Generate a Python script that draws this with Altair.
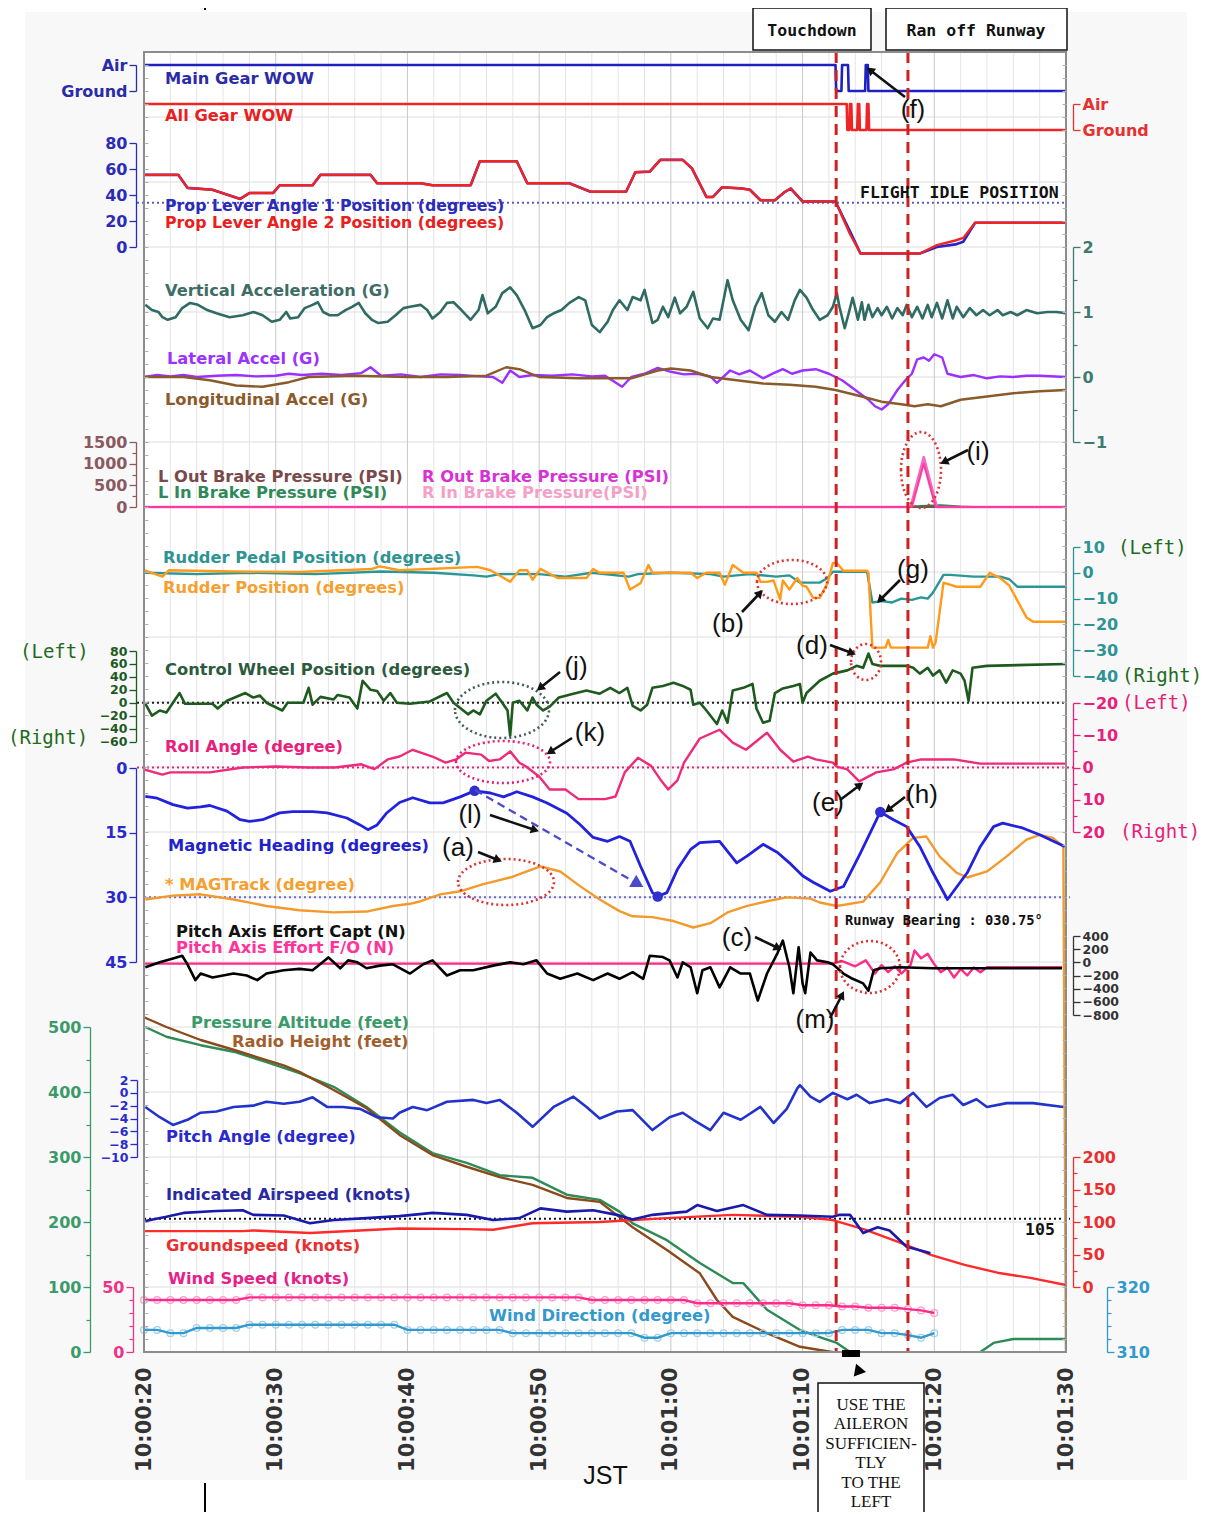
import math
import altair as alt
import pandas as pd

# ----------------------------------------------------------------- data
# time t = seconds after 10:00:00 JST
MAIN_GEAR_WOW = [(20, 1), (72.5, 1), (72.55, 0), (72.95, 0), (73.0, 1), (73.45, 1), (73.5, 0),
                 (74.75, 0), (74.8, 1), (74.95, 1), (75.0, 0), (90, 0)]
ALL_GEAR_WOW = [(20, 1), (73.35, 1), (73.4, 0), (73.55, 0), (73.6, 1), (73.7, 1), (73.75, 0),
                (74.15, 0), (74.2, 1), (74.3, 1), (74.35, 0), (74.85, 0), (74.9, 1), (75.0, 1),
                (75.05, 0), (90, 0)]
PLA_2 = [(20, 55.5), (22.6, 55.5), (23.3, 45.5), (25.2, 44), (27.3, 37), (28.0, 41.5), (29.8, 41.5),
         (30.3, 47.5), (32.8, 47.5), (33.4, 55.5), (37.2, 55.5), (37.7, 49), (41.0, 49), (41.9, 47.5),
         (44.8, 47.5), (45.5, 66), (48.3, 66), (49.1, 49), (52.3, 49), (53.9, 42.5), (56.6, 42.5),
         (57.3, 57.5), (58.4, 58), (59.2, 67), (60.9, 67), (61.6, 60.5), (62.7, 38.5), (63.2, 38.5),
         (63.9, 46), (65.4, 45), (66.0, 44), (66.8, 36), (67.9, 36), (68.6, 42), (69.1, 45),
         (70.0, 35), (72.5, 35), (73.6, 10), (74.4, -5), (78.9, -5), (80.2, 1.5), (81.6, 5),
         (82.2, 7), (83.1, 18.7), (90, 18.7)]
PLA_1 = [(20, 55.5), (22.6, 55.5), (23.3, 45.5), (25.2, 44), (27.3, 37), (28.0, 41.5), (29.8, 41.5),
         (30.3, 47.5), (32.8, 47.5), (33.4, 55.5), (37.2, 55.5), (37.7, 49), (41.0, 49), (41.9, 47.5),
         (44.8, 47.5), (45.5, 66), (48.3, 66), (49.1, 49), (52.3, 49), (53.9, 42.5), (56.6, 42.5),
         (57.3, 57.5), (58.4, 58), (59.2, 67), (60.9, 67), (61.6, 60.5), (62.7, 38.5), (63.2, 38.5),
         (63.9, 46), (65.4, 45), (66.0, 44), (66.8, 36), (67.9, 36), (68.6, 42), (69.1, 45),
         (70.0, 35), (72.5, 35), (73.6, 12), (74.4, -5), (78.9, -5), (80.2, 0), (81.6, 2),
         (82.2, 4), (83.1, 18.7), (90, 18.7)]
FLIGHT_IDLE = 34

VERT_ACC = [(20.1, 1.11), (20.6, 1.03), (21.1, 1.0), (21.4, 0.92), (21.8, 0.88), (22.4, 0.92), (22.9, 1.06),
            (23.5, 1.14), (24.1, 1.11), (24.8, 1.03), (25.5, 0.98), (26.5, 0.92), (27.5, 0.95), (28.3, 1.0),
            (29.0, 0.95), (29.7, 0.85), (30.3, 0.88), (30.8, 1.0), (31.1, 0.9), (31.7, 0.92), (32.2, 1.06),
            (32.8, 1.11), (33.2, 1.15), (33.6, 1.0), (34.1, 0.95), (34.7, 0.95), (35.3, 1.03), (35.8, 1.08),
            (36.3, 1.14), (36.8, 0.98), (37.3, 0.88), (37.8, 0.83), (38.5, 0.85), (39.1, 0.95), (39.7, 1.06),
            (40.2, 1.08), (41.0, 1.11), (41.5, 1.03), (41.9, 0.9), (42.5, 1.0), (43.0, 1.14), (43.5, 1.15),
            (44.1, 1.03), (44.8, 0.88), (45.4, 1.03), (45.7, 1.26), (46.1, 0.98), (46.7, 1.08), (47.2, 1.29),
            (47.8, 1.38), (48.3, 1.26), (48.9, 1.03), (49.5, 0.75), (50.1, 0.8), (50.6, 0.92), (51.1, 0.98),
            (51.7, 1.03), (52.3, 1.14), (53.0, 1.23), (53.5, 1.18), (54.0, 0.8), (54.6, 0.69), (55.2, 0.85),
            (55.6, 1.03), (56.1, 1.18), (56.7, 1.03), (57.1, 1.23), (57.7, 1.18), (58.0, 1.34), (58.6, 0.83),
            (59.0, 0.88), (59.4, 1.08), (59.8, 0.92), (60.3, 1.22), (60.7, 0.98), (61.2, 1.08), (61.7, 1.31),
            (62.2, 0.9), (62.8, 0.75), (63.2, 0.9), (63.7, 0.88), (64.3, 1.49), (64.7, 1.18), (65.3, 0.88),
            (65.9, 0.72), (66.4, 1.08), (66.9, 1.29), (67.4, 0.95), (67.9, 0.85), (68.4, 1.0), (68.9, 0.88),
            (69.4, 1.18), (69.8, 1.34), (70.3, 1.22), (70.8, 1.03), (71.3, 0.88), (71.9, 0.95), (72.3, 1.08),
            (72.6, 1.29), (72.8, 1.08), (73.2, 0.75), (73.5, 0.98), (73.8, 1.22), (74.0, 1.06), (74.2, 0.88),
            (74.5, 1.15), (74.7, 0.88), (75.0, 1.11), (75.3, 0.92), (75.7, 1.06), (76.0, 0.95), (76.4, 1.08),
            (76.8, 0.9), (77.2, 1.06), (77.6, 0.95), (77.9, 1.11), (78.3, 0.92), (78.7, 1.08), (79.1, 0.9),
            (79.5, 1.11), (79.8, 0.92), (80.2, 1.14), (80.6, 0.9), (81.0, 1.18), (81.4, 0.9), (81.7, 1.08),
            (82.2, 0.92), (82.7, 1.06), (83.2, 0.95), (83.7, 1.03), (84.2, 0.95), (84.8, 1.03), (85.2, 0.95),
            (85.8, 1.0), (86.3, 0.95), (87.0, 1.03), (87.8, 0.98), (88.6, 1.0), (89.3, 1.0), (90.0, 0.98)]
LAT_ACC = [(20, 0.0), (21, 0.03), (22, 0.01), (23, 0.03), (24, 0.0), (25.5, 0.02), (27, 0.03), (28.5, 0.01),
           (30, 0.02), (31, 0.05), (32, 0.03), (33.5, 0.05), (35, 0.03), (36.5, 0.06), (37.2, 0.15),
           (38, 0.02), (39.5, 0.04), (41, 0.0), (42.5, 0.04), (44, 0.03), (45.5, 0.01), (46.5, 0.0),
           (47.2, -0.09), (47.8, 0.1), (48.5, 0.0), (49.5, 0.03), (51, 0.02), (52.5, 0.04), (54, 0.01),
           (55, 0.02), (56.3, -0.15), (57, 0.0), (58, 0.05), (59, 0.14), (60, 0.08), (61, 0.04),
           (62, 0.05), (63, 0.01), (63.5, -0.09), (64.5, 0.1), (65.2, 0.04), (66, 0.1), (67, -0.02),
           (67.8, 0.06), (68.5, 0.12), (69.2, 0.05), (70, 0.1), (71, 0.12), (72, 0.05), (73, -0.05),
           (74, -0.2), (75, -0.35), (75.5, -0.45), (76, -0.5), (76.5, -0.42), (77.2, -0.2), (77.8, -0.05),
           (78.3, 0.05), (78.7, 0.27), (79.2, 0.3), (79.6, 0.25), (80, 0.35), (80.6, 0.3), (81, 0.05),
           (82, 0.0), (83, 0.03), (84, -0.02), (85, 0.01), (86, 0.0), (87, 0.02), (88, 0.02), (90, 0.0)]
LON_ACC = [(20, 0.0), (23, 0.0), (25, -0.05), (27, -0.13), (29, -0.15), (31, -0.08), (32.5, 0.0), (36, 0.02),
           (40, 0.0), (43, 0.0), (46, 0.02), (47.5, 0.15), (48.5, 0.12), (50, 0.0), (53, -0.02), (57, -0.02),
           (59, 0.1), (60, 0.13), (61.5, 0.1), (63, 0.0), (65, -0.05), (67, -0.1), (69, -0.12), (71, -0.15),
           (72.5, -0.2), (73.5, -0.25), (74.5, -0.3), (76, -0.38), (77.5, -0.42), (78.5, -0.45),
           (79.5, -0.42), (80.5, -0.45), (82, -0.35), (84, -0.3), (86, -0.25), (88, -0.22), (90, -0.2)]

BRAKE_L_OUT = [(20, 0), (90, 0)]
BRAKE_L_IN = [(20, 0), (78, 0), (79, 20), (80.5, 40), (82, 10), (83, 0), (90, 0)]
BRAKE_R_OUT = [(20, 0), (78.2, 0), (79.2, 1150), (80.2, 0), (90, 0)]
BRAKE_R_IN = [(20, 0), (78.3, 0), (79.2, 1000), (80.1, 0), (90, 0)]

RUDDER_PEDAL = [(20, 0), (24, -0.5), (28, 0), (33, -0.5), (38, 0.5), (42, 0), (45, -1), (46, -1.5), (47, -0.5),
                (50, -0.5), (52, -1.5), (54, 0), (56.8, -1.5), (57.5, -0.5), (60, 0), (63, -0.5), (64, -1.5),
                (66, -0.5), (68, -1.5), (69, -1), (69.8, -3.8), (71.3, -3.8), (71.9, -2), (72.3, 0.4),
                (74.9, 0.4), (75.3, -11.5), (76, -11), (76.8, -11.5), (77.5, -10), (78.3, -10.5),
                (79.0, -9.5), (79.5, -10), (79.9, -7.7), (80.7, -0.8), (81.2, -0.8), (83, -1.5), (85, -1.5),
                (85.7, -2.5), (86.3, -5.4), (90, -5.4)]
RUDDER_POS = [(20, 1), (21.4, -1.5), (21.9, 1), (26.8, 0.5), (31.8, 0.3), (37.3, 1.5), (37.9, 2.5), (39.4, 1),
              (45.3, 2.3), (46.3, 1), (47.8, -3.5), (48.5, 1), (49.1, 1), (49.5, -2.7), (50.1, 1.5),
              (51.4, -2), (53.6, -2), (54.1, 1.5), (54.6, 0), (56.4, 0), (56.9, -6.5), (57.7, -4), (58.3, 3),
              (58.6, 0), (61.5, 0), (62.0, -2), (62.7, 0), (63.7, 0), (64.1, -4.6), (64.7, 3), (65.5, 0),
              (66.5, 0), (66.8, -3.5), (67.3, -3.5), (67.8, -3), (68.3, -10.4), (68.5, -3), (69.0, -6.5),
              (69.6, -2), (70.0, -5), (70.3, -5.4), (70.8, -9.7), (71.3, -9.7), (71.9, -4), (72.3, 3.8),
              (72.6, 3.8), (73.1, 0.8), (74.9, 0.8), (75.0, 0), (75.3, -29), (76.3, -29), (76.5, -26),
              (76.7, -29), (79.5, -29), (79.7, -24.6), (79.9, -29), (80.1, -27), (80.7, -3.8), (81.7, -5.4),
              (83.5, -5.4), (84.2, 0), (85.0, -2), (85.7, -5), (87.0, -17.3), (87.5, -19), (90, -19)]

CONTROL_WHEEL = [(20.1, -1.5), (20.6, -20), (21.2, -12), (21.7, -15), (22.2, 0), (22.7, 15), (23.1, -1.5),
                 (25.2, -1.5), (25.6, -9), (26.3, 3), (27.7, 15), (28.3, 8), (28.8, 11), (29.3, 0),
                 (30.5, -12), (30.9, 0), (32.1, 0), (32.5, 23), (32.8, -3), (33.4, 9), (34.4, 5), (34.7, 12),
                 (35.6, 8), (36.2, -9), (36.6, 34), (37.2, 20), (37.7, 18), (38.2, 3), (38.7, 15), (39.2, 0),
                 (40.2, -1.5), (41.7, 2), (43.0, 15), (43.5, 0), (44.6, -18), (45.0, -12), (45.5, -18),
                 (46.0, 3), (46.7, 14), (47.2, 0), (47.6, -12), (47.8, -51), (48.0, 0), (48.5, 3),
                 (49.1, -12), (49.5, 8), (49.8, -3), (50.3, -12), (50.8, -6), (51.5, 8), (52.6, 14),
                 (53.6, 19), (54.6, 14), (55.4, 23), (56.1, 15), (56.7, 23), (57.1, -5), (57.7, -12),
                 (58.2, -3), (58.6, 23), (59.4, 26), (60.2, 31), (60.9, 26), (61.5, 20), (61.7, -3),
                 (62.2, 0), (62.7, -12), (63.5, -33), (63.9, -12), (64.3, -31), (64.7, 19), (65.5, 23),
                 (66.2, 29), (66.5, -9), (67.0, -31), (67.5, -28), (67.9, 15), (68.5, 22), (69.3, 26),
                 (69.8, 29), (70.0, 0), (70.3, 15), (71.3, 34), (72.3, 45), (73.4, 50), (74.1, 57), (74.6, 54),
                 (75.0, 76), (75.3, 60), (75.9, 57), (77.9, 57), (78.4, 54), (78.9, 45), (79.5, 54),
                 (79.9, 42), (80.4, 50), (80.9, 31), (81.4, 50), (82.0, 45), (82.3, 34), (82.6, 3),
                 (82.9, 54), (84.0, 57), (90, 60)]
ROLL = [(20, 0.6), (21.4, 2.2), (22, 1.5), (25, 1.5), (27.5, 0), (30, -0.3), (32.5, 0), (34.5, 0),
        (36.5, -1), (37.5, 0.5), (38.5, -2.5), (39.4, -3.4), (40.4, -5.5), (41.9, -3.4), (42.9, -1.5),
        (43.7, -2.5), (44.4, -4.6), (45.6, -4), (46.2, -2), (47.0, -2.5), (47.8, -5), (48.5, -1.5),
        (49.0, -0.3), (50.0, 2.8), (50.8, 6.8), (52.0, 6.8), (53.0, 9.8), (55.0, 9.8), (55.8, 9),
        (56.5, 1.5), (57.5, -3), (58.5, -0.5), (59.2, 3.7), (59.8, 6.8), (60.5, 4), (61.0, -1.5),
        (62.2, -9), (63.7, -11.7), (64.7, -7.7), (65.7, -5.5), (67.3, -10.8), (68.3, -5.5), (69.3, -1.8),
        (70.4, -3.4), (71.0, -2.5), (72.3, -1.5), (72.6, -0.3), (73.4, 0.6), (74.3, 4.3), (75.6, 1.5),
        (76.9, 0.6), (77.9, -1.5), (79, -2.5), (81.5, -2.5), (83.5, -1.2), (90, -1.2)]

MAG_HEADING = [(20.1, 6.6), (21.0, 7.0), (22.2, 8.5), (23.3, 9.3), (24.3, 9.0), (25.0, 8.7), (26.3, 10.0),
               (27.3, 12), (28.0, 12.4), (29.0, 12.0), (30.3, 10.4), (31.3, 10.1), (32.8, 10.1), (33.9, 10.4),
               (35.4, 11.6), (36.4, 13.2), (37.0, 14.3), (37.7, 13.2), (38.4, 10.5), (39.4, 8.0),
               (40.4, 6.9), (41.7, 8.1), (42.7, 8.1), (44.0, 6.7), (45.1, 5.3), (46.3, 5.8), (47.3, 6.7),
               (48.3, 5.5), (49.5, 6.7), (50.6, 8.1), (52.1, 10.5), (53.1, 13.1), (54.1, 16.1), (55.2, 17.0),
               (56.1, 15.9), (56.9, 17.0), (57.7, 22.8), (58.6, 28.9), (59.0, 29.8), (59.7, 28.9),
               (60.5, 23.5), (61.5, 18.9), (62.2, 17.3), (63.7, 17.0), (65.0, 22), (65.8, 20.4), (67.0, 17.7),
               (68.1, 19.6), (69.0, 22), (70.0, 25), (70.8, 26.5), (72.1, 28.6), (73.1, 27.5), (74.4, 19.7),
               (75.9, 10.2), (76.9, 12), (77.9, 13.6), (78.9, 18.2), (79.9, 24.3), (81.0, 30.5),
               (82.5, 24.3), (83.5, 18.2), (84.5, 13.6), (85.2, 12.8), (86.7, 13.9), (88.0, 15.5),
               (89.9, 18.2)]
MAG_TRACK = [(20.1, 30.5), (22.2, 29.6), (24.3, 29.3), (26.8, 30.5), (29.3, 32), (31.8, 33), (34.4, 33.5),
             (36.9, 33.3), (38.9, 32), (40.2, 31.5), (41.0, 30.9), (42.5, 29.3), (44.0, 28.6), (45.7, 27),
             (47.8, 25.4), (50.1, 22.8), (51.6, 24), (53.1, 27.4), (54.6, 30.5), (56.1, 33.2), (57.1, 34.4),
             (58.6, 34.6), (60.2, 35.5), (61.7, 37), (63.0, 36), (64.3, 33.5), (65.8, 32), (67.3, 30.9),
             (68.8, 30), (70.6, 30.3), (71.3, 31.2), (72.6, 32), (74.6, 31), (75.9, 26.5), (77.2, 19.7),
             (78.4, 16.2), (79.4, 15.9), (80.4, 20.5), (81.7, 24.3), (82.5, 25.4), (84.0, 24), (85.5, 20.5),
             (87.0, 16.6), (88.0, 15.5), (89.0, 16.2), (89.8, 18.2), (90.0, 140)]
RUNWAY_BEARING = 30
HEADING_MARKS = [(45.1, 5.3), (59.0, 29.8), (75.9, 10.2)]

EFFORT_CAPT = [(20.1, -75), (21.2, 0), (22.2, 60), (22.9, 100), (23.3, -30), (23.9, -270), (24.3, -170),
               (25.2, -230), (26.8, -170), (27.8, -200), (28.6, -270), (29.3, -170), (30.6, -120),
               (31.8, -100), (32.8, -120), (34.0, 75), (34.9, -90), (35.5, 30), (36.2, 0), (36.9, -90),
               (37.9, -50), (38.9, -30), (40.2, -170), (41.2, -30), (41.9, 30), (43.0, -200), (44.0, -120),
               (45.0, -120), (46.5, -50), (47.8, 0), (48.8, -30), (49.8, 30), (50.6, -170), (51.6, -250),
               (52.9, -170), (54.1, -270), (55.2, -170), (56.1, -250), (57.1, -150), (57.9, -250),
               (58.4, 100), (59.4, 80), (59.9, 30), (60.5, -230), (60.9, 0), (61.5, -75), (62.0, -470),
               (62.4, -120), (63.0, -75), (63.7, -380), (64.5, -75), (65.3, -170), (66.0, -170),
               (66.6, -580), (67.3, -170), (68.1, 140), (68.5, 330), (69.0, -75), (69.3, -470), (69.7, 230),
               (70.0, -320), (70.2, -470), (70.6, 150), (71.1, 30), (71.9, 0), (72.3, -30), (73.1, -170),
               (73.8, -250), (74.6, -320), (75.0, -430), (75.4, -120), (75.9, -90), (77.4, -75),
               (79.9, -90), (89.7, -90)]
EFFORT_FO = [(20, -20), (72.3, -20), (73, 20), (74, -60), (74.8, 30), (75.5, -170), (76, -40), (76.5, -150),
             (77, -60), (77.5, -170), (78.2, -40), (78.5, 180), (79, 60), (79.5, 130), (80, -30),
             (80.5, -150), (81, -80), (81.5, -230), (82, -100), (82.5, -200), (83, -80), (83.5, -150),
             (84, -75), (89.7, -75)]

PRESSURE_ALT = [(20.1, 500), (21.7, 485), (24.3, 472), (26.8, 462), (29.3, 446), (31.8, 429), (34.4, 408),
                (36.9, 377), (39.4, 338), (41.9, 306), (44.5, 291), (47.0, 272), (49.5, 268), (52.1, 242),
                (54.6, 234), (56.1, 216), (57.1, 198), (59.7, 172), (62.2, 137), (64.7, 106), (65.5, 106),
                (67.3, 65), (69.8, 34), (71.3, 23), (72.6, 14), (73.6, 0), (74.5, -30), (82.5, -30),
                (83.5, 0), (84.5, 14), (86, 20), (90, 20)]
RADIO_HEIGHT = [(20.0, 515), (21.7, 500), (24.3, 480), (26.8, 465), (29.3, 449), (30.6, 441), (31.8, 431),
                (34.4, 403), (36.9, 375), (39.4, 334), (41.9, 303), (44.5, 285), (47.0, 269), (49.5, 257),
                (52.1, 237), (54.6, 231), (57.1, 192), (59.7, 157), (62.2, 121), (63.5, 80), (64.7, 54),
                (67.3, 29), (69.8, 8), (71.3, 3), (72.0, 1), (72.6, -1), (73.5, -30), (90, -30)]
PITCH = [(20.1, -2.2), (21.2, -3.8), (22.2, -5), (23.3, -4.2), (24.3, -3.1), (25.5, -2.9), (26.8, -2.2),
         (28.3, -2.0), (29.3, -1.4), (30.6, -1.7), (31.8, -1.4), (32.8, -0.7), (33.9, -2.2), (35.1, -2.2),
         (36.4, -2.5), (37.7, -3.8), (38.9, -4.0), (39.4, -3.1), (40.4, -2.2), (41.5, -2.7), (43.0, -1.4),
         (45.0, -1.1), (46.0, -1.6), (47.0, -1.1), (48.3, -3.1), (49.5, -5.3), (51.1, -2.2), (52.6, -0.6),
         (53.6, -2.2), (54.6, -4), (55.9, -2.9), (57.1, -2.7), (58.6, -5.8), (59.9, -3.8), (60.9, -3.1),
         (61.7, -4.2), (63.0, -5.8), (64.0, -3.1), (65.3, -4.2), (66.8, -2.2), (67.8, -4.7), (68.8, -2.5),
         (69.6, 0.7), (69.8, 1.2), (70.6, -0.6), (71.3, -1.4), (72.3, 0), (73.4, -1.0), (74.1, -0.3),
         (75.1, -1.6), (76.4, -1.0), (77.4, -1.6), (78.4, 0), (79.4, -2.2), (80.4, -0.8), (81.4, -0.3),
         (82.2, -1.9), (83.2, -1.0), (84.0, -2.2), (85.5, -1.6), (87.5, -1.6), (89.8, -2.2)]

IAS = [(20.1, 101.5), (21.7, 108), (23.0, 114), (25.5, 117), (27.5, 118), (28.3, 111), (30.6, 110),
       (32.6, 98), (34.4, 103), (36.9, 106), (39.4, 109), (41.9, 114), (44.5, 111), (46.5, 103),
       (48.5, 106), (50.1, 121), (52.1, 116), (54.1, 118), (55.9, 111), (57.1, 104), (58.6, 111),
       (61.2, 116), (62.0, 126), (63.5, 117), (65.5, 126), (67.3, 111), (69.8, 110), (72.3, 108),
       (72.8, 111), (73.6, 111), (74.6, 83), (75.7, 92), (76.6, 87), (77.9, 62), (79.4, 54), (79.7, 52)]
IAS_REF = 105
GROUNDSPEED = [(20, 86), (27.5, 86), (28.3, 87), (32.6, 83), (39.4, 90), (44.5, 89), (46.5, 88), (49.5, 98),
               (54.6, 100), (59.7, 106), (64.7, 111), (69.8, 108), (72.3, 103), (74.8, 88), (77.3, 69),
               (79.8, 49), (82.3, 34), (84.8, 22), (87.3, 14), (90, 3)]
WIND_T = list(range(20, 81))
WIND_SPEED = ([40] * 8 + [42] * 26 + [40] * 8 + [37.5] * 8 + [36] * 3 + [35] * 2 + [34] * 3 + [33, 32, 30])
WIND_DIR = ([313.4] * 2 + [312.9] * 2 + [313.7] * 4 + [314.2] * 12 + [313.4] * 8 + [312.9] * 10 + [312.2] * 2
            + [312.9] * 13 + [313.4] * 3 + [312.9] * 2 + [312.6, 312.2, 312.9])

EVENT_T = [72.55, 78.0]          # touchdown, ran off runway

# ----------------------------------------------------------------- layout
W, H = 922, 1300
XS = alt.Scale(domain=[20, 90], range=[0, W], zero=False, nice=False)
PX = alt.Scale(domain=[0, W], range=[0, W], zero=False, nice=False)
PY = alt.Scale(domain=[0, H], range=[0, H], zero=False, nice=False)

BANDS = {
    'mgwow': ([0, 1], [39, 13]),
    'agwow': ([0, 1], [78, 52]),
    'pla': ([0, 80], [195, 91]),
    'acc': ([-1, 2], [390, 195]),
    'brake': ([0, 1500], [455, 390]),
    'rudder': ([-40, 10], [624, 495]),
    'wheel': ([-60, 80], [689.5, 599]),
    'roll': ([-20, 20], [651, 780]),
    'hdg': ([0, 45], [716, 910]),
    'effort': ([-800, 400], [963, 884]),
    'alt': ([0, 500], [1300, 975]),
    'pitch': ([-10, 2], [1105, 1028]),
    'spd': ([0, 200], [1235, 1105]),
    'wspd': ([0, 50], [1300, 1235]),
    'wdir': ([310, 320], [1300, 1235]),
}


def ys(name):
    dom, rng = BANDS[name]
    return alt.Scale(domain=dom, range=rng, zero=False, nice=False)


def yaxis(orient, values, color, offset=8, size=16, expr=''):
    kw = dict(orient=orient, values=values, offset=offset, title='', grid=False, zindex=2,
              labelColor=color, domainColor=color, tickColor=color, tickSize=7, format='d',
              labelFont='DejaVu Sans', labelFontWeight='bold', labelFontSize=size,
              labelPadding=2, labelOverlap=False, labelFlush=False, domainWidth=1.3, tickWidth=1.3)
    if expr:
        kw['labelExpr'] = expr
    return alt.Axis(**kw)


def minor(band, orient, values, color, offset=8):
    return alt.Chart(pd.DataFrame({'v': [values[0]]})).mark_point(opacity=0).encode(
        x=alt.value(0),
        y=alt.Y('v:Q', scale=ys(band), axis=alt.Axis(
            orient=orient, values=values, labels=False, domain=False, tickSize=4, tickColor=color,
            tickWidth=1.2, offset=offset, title='', grid=False, zindex=2)))


def line(points, band, color, width=2.4, ax=None, dash=None):
    df = pd.DataFrame(points, columns=['t', 'v'])
    props = dict(color=color, strokeWidth=width, clip=True, strokeJoin='round')
    if dash:
        props['strokeDash'] = dash
    return alt.Chart(df).mark_line(**props).encode(
        x=alt.X('t:Q', scale=XS, axis=None), y=alt.Y('v:Q', scale=ys(band), axis=ax))


def ref(band, value, color, x0, x1, width=2):
    return alt.Chart(pd.DataFrame({'v': [value]})).mark_rule(
        color=color, strokeDash=[2, 3], strokeWidth=width).encode(
        x=alt.value(x0), x2=alt.value(x1), y=alt.Y('v:Q', scale=ys(band), axis=None))


def rect(x0, x1, y0, y1, fill, stroke='', sw=0):
    df = pd.DataFrame({'x': [x0], 'x2': [x1], 'y': [y0], 'y2': [y1]})
    props = dict(fill=fill)
    if stroke:
        props.update(stroke=stroke, strokeWidth=sw)
    return alt.Chart(df).mark_rect(**props).encode(
        x=alt.X('x:Q', scale=PX, axis=None), x2='x2:Q', y=alt.Y('y:Q', scale=PY, axis=None), y2='y2:Q')


def texts(rows, font, size, weight='normal', align='left'):
    df = pd.DataFrame(rows, columns=['x', 'y', 'text', 'c'])
    return alt.Chart(df).mark_text(font=font, fontSize=size, fontWeight=weight, align=align,
                                   baseline='middle').encode(
        x=alt.X('x:Q', scale=PX, axis=None), y=alt.Y('y:Q', scale=PY, axis=None),
        text='text:N', color=alt.Color('c:N', scale=None))


def ellipse(cx, cy, rx, ry, color):
    k = 0.5523
    r = ry / rx
    path = (f"M -1 0 C -1 {-k * r:.3f} {-k:.3f} {-r:.3f} 0 {-r:.3f} "
            f"C {k:.3f} {-r:.3f} 1 {-k * r:.3f} 1 0 "
            f"C 1 {k * r:.3f} {k:.3f} {r:.3f} 0 {r:.3f} "
            f"C {-k:.3f} {r:.3f} -1 {k * r:.3f} -1 0 Z")
    return alt.Chart(pd.DataFrame({'x': [cx], 'y': [cy]})).mark_point(
        shape=path, size=(2 * rx) ** 2, filled=False, color=color, strokeWidth=2.6,
        strokeDash=[2, 3], opacity=1).encode(
        x=alt.X('x:Q', scale=PX, axis=None), y=alt.Y('y:Q', scale=PY, axis=None))


def arrows(rows, color, width, head_size, dash=None):
    recs = []
    for (x0, y0, x1, y1) in rows:
        ang = math.degrees(math.atan2(x1 - x0, -(y1 - y0))) % 360
        recs.append({'x': x0, 'y': y0, 'x2': x1, 'y2': y1, 'a': ang})
    df = pd.DataFrame(recs)
    rp = dict(color=color, strokeWidth=width)
    if dash:
        rp['strokeDash'] = dash
    shaft = alt.Chart(df).mark_rule(**rp).encode(
        x=alt.X('x:Q', scale=PX, axis=None), x2='x2:Q', y=alt.Y('y:Q', scale=PY, axis=None), y2='y2:Q')
    head = alt.Chart(df).mark_point(shape='triangle-up', filled=True, color=color, size=head_size,
                                    opacity=1).encode(
        x=alt.X('x2:Q', scale=PX, axis=None), y=alt.Y('y2:Q', scale=PY, axis=None),
        angle=alt.Angle('a:Q', scale=None))
    return [shaft, head]


BLUE = '#2424c8'
RED = '#f02424'
layers = []

# backgrounds and grid
layers.append(rect(-119, 1043, -40, 1428, '#f8f8f8'))
layers.append(rect(0, W, 0, H, '#ffffff'))
hgrid = alt.Chart(pd.DataFrame({'y': list(range(0, H + 1, 65))})).mark_rule(
    color='#dddddd', strokeWidth=1).encode(
    y=alt.Y('y:Q', scale=PY, axis=None), x=alt.value(0), x2=alt.value(W))
layers.append(hgrid)
gdf = pd.DataFrame({'t': list(range(20, 91, 2))})
gdf['c'] = ['#c9c9c9' if v % 10 == 0 else '#e5e5e5' for v in gdf['t']]
xaxis = alt.Axis(values=list(range(20, 91, 10)),
                 labelExpr="'10:0' + floor(datum.value / 60) + ':' + (datum.value % 60 < 10 ? '0' : '') + (datum.value % 60)",
                 labelAngle=270, labelFont='DejaVu Sans', labelFontWeight='bold', labelFontSize=21,
                 labelColor='#333333', labelPadding=15, tickSize=0, domain=False, grid=False, zindex=2,
                 title='JST', titleFont='Liberation Sans', titleFontSize=25, titleFontWeight='normal',
                 titleColor='#111111', titleY=123, titleBaseline='middle', labelFlush=False)
vgrid = alt.Chart(gdf).mark_rule(strokeWidth=1).encode(
    x=alt.X('t:Q', scale=XS, axis=xaxis), y=alt.value(0), y2=alt.value(H),
    color=alt.Color('c:N', scale=None))
layers.append(vgrid)

# small ticks inside the frame
edge_vals = list(range(13, H, 13))
for orient in ['right', 'left']:
    layers.append(alt.Chart(pd.DataFrame({'y': [0]})).mark_point(opacity=0).encode(
        x=alt.value(0),
        y=alt.Y('y:Q', scale=PY, axis=alt.Axis(orient=orient, values=edge_vals, labels=False,
                                                domain=False, tickSize=4, tickColor='#b0b0b0',
                                                offset=-W, title='', grid=False, zindex=1))))

# reference lines
layers += [
    ref('pla', FLIGHT_IDLE, '#5a5ad2', -7, 923),
    ref('wheel', 0, '#222222', -7, 923),
    ref('roll', 0, '#e8207a', -7, 933),
    ref('hdg', RUNWAY_BEARING, '#6a6ad8', 0, 926),
    ref('spd', IAS_REF, '#111111', 0, 926),
]

# series
layers += [
    line(MAIN_GEAR_WOW, 'mgwow', '#2020c0', 2.6,
         yaxis('left', [0, 1], '#2b2ba8', 8, 16, "datum.value == 1 ? 'Air' : 'Ground'")),
    line(ALL_GEAR_WOW, 'agwow', RED, 2.6,
         yaxis('right', [0, 1], '#e83030', 7, 16, "datum.value == 1 ? 'Air' : 'Ground'")),
    line(PLA_1, 'pla', BLUE, 2.6, yaxis('left', [0, 20, 40, 60, 80], '#2b2bb8')),
    line(PLA_2, 'pla', RED, 2.4),
    line(VERT_ACC, 'acc', '#2f6b63', 2.6, yaxis('right', [-1, 0, 1, 2], '#3f7a72', 7)),
    minor('acc', 'right', [-0.5, 0.5, 1.5], '#3f7a72', 7),
    line(LAT_ACC, 'acc', '#9b30ff', 2.4),
    line(LON_ACC, 'acc', '#8b5a2b', 2.4),
    line(BRAKE_L_OUT, 'brake', '#7a4a4a', 2.2, yaxis('left', [0, 500, 1000, 1500], '#8a5a60')),
    minor('brake', 'left', [250, 750, 1250], '#8a5a60'),
    line(BRAKE_L_IN, 'brake', '#2e7b4f', 2.2),
    line(BRAKE_R_OUT, 'brake', '#f06cc0', 2.6),
    line(BRAKE_R_IN, 'brake', '#ff3aa0', 2.0),
    line(RUDDER_PEDAL, 'rudder', '#2a9696', 2.4,
         yaxis('right', [-40, -30, -20, -10, 0, 10], '#2e9393', 7)),
    line(RUDDER_POS, 'rudder', '#ff9a1a', 2.4),
    line(CONTROL_WHEEL, 'wheel', '#1e5a1e', 2.6,
         yaxis('left', [-60, -40, -20, 0, 20, 40, 60, 80], '#1e5a1e', 8, 12.5)),
    line(ROLL, 'roll', '#ee2a7b', 2.4, yaxis('right', [-20, -10, 0, 10, 20], '#e8207a', 7)),
    minor('roll', 'right', [-15, -5, 5, 15], '#e8207a', 7),
    line(MAG_TRACK, 'hdg', '#f39a2c', 2.4),
    line(MAG_HEADING, 'hdg', '#2222dd', 2.8, yaxis('left', [0, 15, 30, 45], '#2a2acc')),
    line(EFFORT_FO, 'effort', '#ff2a8a', 2.4,
         yaxis('right', [-800, -600, -400, -200, 0, 200, 400], '#333333', 7, 12.5)),
    line(EFFORT_CAPT, 'effort', '#000000', 2.6),
    line(PRESSURE_ALT, 'alt', '#2e8b57', 2.4, yaxis('left', [0, 100, 200, 300, 400, 500], '#3a9a6a', 54)),
    minor('alt', 'left', [50, 150, 250, 350, 450], '#3a9a6a', 54),
    line(RADIO_HEIGHT, 'alt', '#8b4a1a', 2.4),
    line(PITCH, 'pitch', '#2233cc', 2.6,
         yaxis('left', [-10, -8, -6, -4, -2, 0, 2], '#2a2acc', 7, 12.5)),
    line(GROUNDSPEED, 'spd', '#ff2a2a', 2.4, yaxis('right', [0, 50, 100, 150, 200], '#e83030', 7)),
    minor('spd', 'right', [25, 75, 125, 175], '#e83030', 7),
    line(IAS, 'spd', '#1a1aaa', 2.6),
    minor('wspd', 'left', [10, 20, 30, 40], '#ee3388', 11),
    minor('wdir', 'right', [312, 314, 316, 318], '#3399cc', 41),
]

wind = pd.DataFrame({'t': WIND_T, 'spd': WIND_SPEED, 'dir': WIND_DIR})
layers += [
    alt.Chart(wind).mark_point(filled=False, color='#ff9ccc', size=45, strokeWidth=1.3, opacity=1).encode(
        x=alt.X('t:Q', scale=XS, axis=None), y=alt.Y('spd:Q', scale=ys('wspd'), axis=None)),
    alt.Chart(wind).mark_line(color='#ff2a8a', strokeWidth=2.4).encode(
        x=alt.X('t:Q', scale=XS, axis=None),
        y=alt.Y('spd:Q', scale=ys('wspd'), axis=yaxis('left', [0, 50], '#ee3388', 11))),
    alt.Chart(wind).mark_point(filled=False, color='#9fd0ee', size=45, strokeWidth=1.3, opacity=1).encode(
        x=alt.X('t:Q', scale=XS, axis=None), y=alt.Y('dir:Q', scale=ys('wdir'), axis=None)),
    alt.Chart(wind).mark_line(color='#3399cc', strokeWidth=2.4).encode(
        x=alt.X('t:Q', scale=XS, axis=None),
        y=alt.Y('dir:Q', scale=ys('wdir'), axis=yaxis('right', [310, 320], '#3399cc', 41))),
]

# event lines
layers.append(alt.Chart(pd.DataFrame({'t': EVENT_T})).mark_rule(
    color='#cc2222', strokeWidth=3, strokeDash=[11, 7]).encode(
    x=alt.X('t:Q', scale=XS, axis=None), y=alt.value(0), y2=alt.value(H)))

# heading marker dots
layers.append(alt.Chart(pd.DataFrame(HEADING_MARKS, columns=['t', 'v'])).mark_point(
    filled=True, color='#3030d0', size=110, opacity=1).encode(
    x=alt.X('t:Q', scale=XS, axis=None), y=alt.Y('v:Q', scale=ys('hdg'), axis=None)))

# frame
layers.append(rect(0, W, 0, H, 'transparent', '#8c8c8c', 2))

# ellipses
for (cx, cy, rx, ry, col) in [(777, 418, 20, 38, '#e03030'), (648, 530, 35, 22, '#e03030'),
                              (722, 610, 15, 18, '#e03030'), (358, 658, 47, 28, '#3e5f55'),
                              (359, 710, 47, 21, '#e8207a'), (362, 830, 48, 23, '#e03030'),
                              (726, 915, 30, 26, '#e03030')]:
    layers.append(ellipse(cx, cy, rx, ry, col))

# arrows
layers += arrows([(761, 45, 726, 18), (824, 398, 800, 410), (598, 560, 616, 541), (756, 528, 736, 548),
                  (686, 593, 708, 601), (416, 620, 396, 636), (428, 686, 406, 700), (696, 748, 716, 733),
                  (761, 745, 744, 758), (346, 763, 391, 778), (334, 800, 354, 808), (611, 885, 634, 896),
                  (686, 966, 698, 943)], '#111111', 2.6, 90)
layers += arrows([(331, 738, 494, 832)], '#4a4acc', 2.2, 200, dash=[8, 5])

# bottom marker near aileron note
layers.append(rect(698, 716, 1298, 1305, '#000000'))
layers.append(alt.Chart(pd.DataFrame({'x': [714], 'y': [1317]})).mark_point(
    shape='triangle-up', filled=True, color='#000000', size=170, angle=340, opacity=1).encode(
    x=alt.X('x:Q', scale=PX, axis=None), y=alt.Y('y:Q', scale=PY, axis=None)))

# boxes
layers.append(rect(609, 727, -44, -2, '#ffffff', '#111111', 1.5))
layers.append(rect(742, 923, -44, -2, '#ffffff', '#111111', 1.5))
layers.append(rect(674, 780, 1331, 1480, '#ffffff', '#111111', 1.5))

# stray marks of the source page
layers.append(alt.Chart(pd.DataFrame({'y': [-52, 1431], 'y2': [-42, 1474]})).mark_rule(
    color='#000000', strokeWidth=2).encode(
    x=alt.value(61), y=alt.Y('y:Q', scale=PY, axis=None), y2='y2:Q'))

# series labels
LABELS = [
    (21, 27, 'Main Gear WOW', '#2b2ba8'),
    (21, 64, 'All Gear WOW', '#e82020'),
    (21, 239, 'Vertical Acceleration (G)', '#3f6d66'),
    (23, 307, 'Lateral Accel (G)', '#9a33ff'),
    (21, 348, 'Longitudinal Accel (G)', '#8b5a2b'),
    (14, 425, 'L Out Brake Pressure (PSI)', '#7a4a4a'),
    (14, 441, 'L In  Brake Pressure (PSI)', '#2e8b57'),
    (278, 425, 'R Out  Brake Pressure (PSI)', '#d633d6'),
    (278, 441, 'R In Brake Pressure(PSI)', '#f5a0c8'),
    (19, 506, 'Rudder Pedal Position (degrees)', '#2e9393'),
    (19, 536, 'Rudder Position (degrees)', '#f5a030'),
    (21, 618, 'Control Wheel Position (degrees)', '#2d5a3d'),
    (21, 695, 'Roll Angle (degree)', '#e8207a'),
    (24, 794, 'Magnetic Heading (degrees)', '#2222cc'),
    (21, 833, '* MAGTrack (degree)', '#f5a030'),
    (32, 880, 'Pitch Axis Effort Capt (N)', '#111111'),
    (32, 896, 'Pitch Axis Effort F/O (N)', '#ff3399'),
    (47, 971, 'Pressure Altitude (feet)', '#3a9a6a'),
    (88, 990, 'Radio Height (feet)', '#a0602d'),
    (22, 1085, 'Pitch Angle (degree)', '#2a2acc'),
    (22, 1143, 'Indicated Airspeed  (knots)', '#2a2aa0'),
    (22, 1194, 'Groundspeed (knots)', '#e83030'),
    (24, 1227, 'Wind Speed (knots)', '#e8208a'),
    (345, 1264, 'Wind Direction (degree)', '#3399cc'),
]
layers.append(texts(LABELS, 'DejaVu Sans', 16.3, 'bold'))
layers.append(texts([(21, 154, 'Prop Lever Angle 1 Position (degrees)', '#2b2bb8'),
                     (21, 171, 'Prop Lever Angle 2 Position (degrees)', '#e82020')],
                    'DejaVu Sans', 15.8, 'bold'))

SIDE_NOTES = [
    (-124, 600, '(Left)', '#1e6b1e'), (-136, 686, '(Right)', '#1e6b1e'),
    (974, 496, '(Left)', '#1e6b1e'), (978, 624, '(Right)', '#1e6b1e'),
    (978, 651, '(Left)', '#e8207a'), (976, 780, '(Right)', '#e8207a'),
]
layers.append(texts(SIDE_NOTES, 'DejaVu Sans Mono', 19))

layers.append(texts([(716, 141, 'FLIGHT IDLE POSITION', '#111111')], 'DejaVu Sans Mono', 16.5, 'bold'))
layers.append(texts([(701, 869, 'Runway Bearing : 030.75°', '#111111')], 'DejaVu Sans Mono', 13.7, 'bold'))
layers.append(texts([(896, 1178, '105', '#111111'), (668, -21, 'Touchdown', '#111111'),
                     (832, -21, 'Ran off Runway', '#111111')], 'DejaVu Sans Mono', 16.5, 'bold', 'center'))

TAGS = [(769, 58, '(f)'), (834, 400, '(i)'), (584, 572, '(b)'), (769, 518, '(g)'), (668, 594, '(d)'),
        (432, 615, '(j)'), (446, 681, '(k)'), (684, 751, '(e)'), (778, 743, '(h)'), (326, 763, '(l)'),
        (314, 796, '(a)'), (593, 886, '(c)'), (671, 968, '(m)')]
layers.append(texts([(x, y, s, '#111111') for (x, y, s) in TAGS], 'Liberation Sans', 26, 'normal', 'center'))

NOTE = ['USE THE', 'AILERON', 'SUFFICIEN-', 'TLY', 'TO THE', 'LEFT']
layers.append(texts([(727, 1353 + 19.4 * i, s, '#111111') for i, s in enumerate(NOTE)],
                    'Liberation Serif', 17, 'normal', 'center'))

chart = alt.layer(*layers).resolve_scale(x='independent', y='independent').properties(
    width=W, height=H,
    autosize=alt.AutoSizeParams(type='none'),
    padding={'left': 136, 'top': 44, 'right': 139, 'bottom': 160},
).configure_view(strokeWidth=0)

chart.save('out.html', embed_options={'renderer': 'svg', 'actions': False})
